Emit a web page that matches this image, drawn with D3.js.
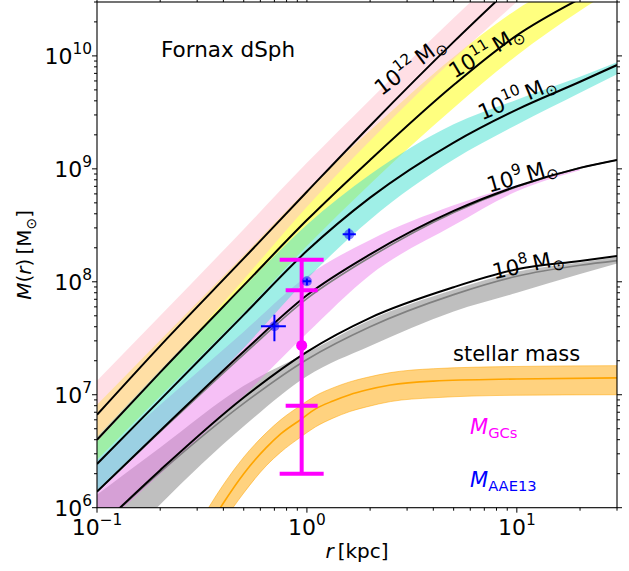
<!DOCTYPE html>
<html><head><meta charset="utf-8">
<script src="https://cdn.jsdelivr.net/npm/d3@7"></script>
<style>body{margin:0;background:#fff} text{font-family:"DejaVu Sans",sans-serif}</style>
</head><body><svg id="c" width="629" height="571" xmlns="http://www.w3.org/2000/svg"></svg>
<script>
// ---------- data ----------
const rGrid   = [0.1, 0.2, 0.5, 1, 2, 5, 10, 20, 30];
const r12     = [0.1, 0.2, 0.5, 1, 2, 5, 10];
const halo12  = [6.65e6, 2.71e7, 1.61e8, 6.27e8, 2.41e9, 1.33e10, 4.53e10];
const halo12Hi= [1.33e7, 5.00e7, 2.92e8, 1.13e9, 4.10e9, 2.17e10, 7.10e10];
const halo12Lo= [3.83e6, 1.56e7, 1.05e8, 4.61e8, 1.77e9, 9.41e9, 3.01e10];
const halo11  = [3.99e6, 1.58e7, 9.29e7, 3.52e8, 1.20e9, 5.53e9, 1.52e10, 3.21e10, 4.7e10];
const halo11Hi= [8.15e6, 3.04e7, 1.72e8, 6.50e8, 2.18e9, 9.80e9, 2.58e10, 5.24e10, 7.48e10];
const halo11Lo= [2.65e6, 9.68e6, 5.35e7, 2.07e8, 7.36e8, 3.46e9, 1.01e10, 2.51e10, 4.05e10];
const halo10  = [2.44e6, 9.0e6, 5.1e7, 1.88e8, 5.56e8, 1.71e9, 3.35e9, 5.9e9, 8.3e9];
const halo10Hi= [4.24e6, 1.66e7, 9.03e7, 3.20e8, 8.90e8, 2.48e9, 4.10e9, 6.54e9, 8.77e9];
const halo10Lo= [1.35e6, 4.68e6, 2.60e7, 1.06e8, 3.55e8, 1.21e9, 2.46e9, 4.72e9, 6.87e9];
const halo9   = [1.39e6, 4.80e6, 2.42e7, 7.6e7, 1.75e8, 4.24e8, 7.01e8, 1.02e9, 1.2e9];
const r9band  = [0.1, 0.2, 0.5, 1, 2, 5, 10, 20];
const halo9Hi = [2.61e6, 8.15e6, 3.62e7, 1.12e8, 2.35e8, 4.75e8, 7.15e8, 1.02e9];
const halo9Lo = [6.09e5, 1.99e6, 9.80e6, 3.5e7, 1.15e8, 3.16e8, 6.33e8, 9.72e8];
const halo8   = [6.4e5, 2.15e6, 9.46e6, 2.4e7, 4.8e7, 8.95e7, 1.29e8, 1.53e8, 1.69e8];
const halo8Hi = [1.30e6, 3.41e6, 1.20e7, 2.35e7, 4.6e7, 8.5e7, 1.23e8, 1.48e8, 1.66e8];
const halo8Lo = [2.76e5, 1.07e6, 5.25e6, 1.46e7, 2.70e7, 5.45e7, 7.98e7, 1.17e8, 1.45e8];
const grey8   = [6.4e5, 2.06e6, 8.37e6, 2.05e7, 4.0e7, 7.7e7, 1.12e8, 1.40e8, 1.54e8];
const grey9   = [1.39e6, 4.70e6, 2.28e7, 7.1e7, 1.65e8, 4.11e8, 6.93e8, 1.02e9, 1.2e9];

const starR   = [0.3, 0.4, 0.5, 0.64, 0.75, 0.93, 1.1, 1.33, 1.6, 1.92, 2.5, 4, 10, 30];
const starM   = [4.5e5, 1.1e6, 2.0e6, 3.4e6, 4.5e6, 6.0e6, 7.5e6, 8.8e6, 1.0e7, 1.1e7, 1.22e7, 1.32e7, 1.38e7, 1.41e7];
const starHi  = [6.8e5, 1.6e6, 2.8e6, 4.6e6, 6.0e6, 8.0e6, 9.8e6, 1.15e7, 1.3e7, 1.42e7, 1.57e7, 1.7e7, 1.78e7, 1.81e7];
const starLo  = [3.0e5, 0.75e6, 1.35e6, 2.35e6, 3.1e6, 4.2e6, 5.2e6, 6.2e6, 7.1e6, 7.8e6, 8.7e6, 9.4e6, 9.9e6, 1.0e7];

const gcR = 0.944, gcM = 2.73e7;
const gcInner = [8.0e6, 8.4e7];
const gcOuter = [2.0e6, 1.57e8];

const aaeR   = [0.70, 1.0, 1.59];
const aaeM   = [4.04e7, 1.01e8, 2.63e8];
const aaeRlo = [0.604, 0.957, 1.48];
const aaeRhi = [0.794, 1.045, 1.71];
const aaeMlo = [2.97e7, 0.93e8, 2.32e8];
const aaeMhi = [5.12e7, 1.07e8, 2.97e8];

const xMajor = [0.1, 1, 10];
const xMajorExp = ["\u22121", "0", "1"];
const yMajor = [1e6, 1e7, 1e8, 1e9, 1e10];
const yMajorExp = ["6", "7", "8", "9", "10"];
const haloLabels = ["12", "11", "10", "9", "8"];

// ---------- layout ----------
const L = 97, R = 617, T = 2, B = 507.7;
const x = d3.scaleLog().domain([0.1, 30]).range([L, R]);
const y = d3.scaleLog().domain([1e6, 3e10]).range([B, T]);
const svg = d3.select('#c');
svg.append('rect').attr('width', 629).attr('height', 571).attr('fill', '#fff');
svg.append('defs').append('clipPath').attr('id', 'clip')
  .append('rect').attr('x', L).attr('y', T).attr('width', R - L).attr('height', B - T);
const g = svg.append('g').attr('clip-path', 'url(#clip)');

const areaPath = (rs, lo, hi) => d3.area()
  .x((d, i) => x(rs[i])).y0((d, i) => y(lo[i])).y1((d, i) => y(hi[i]))
  .curve(d3.curveMonotoneX)(rs);
const linePath = (rs, ms) => d3.line()
  .x((d, i) => x(rs[i])).y((d, i) => y(ms[i]))
  .curve(d3.curveMonotoneX)(rs);

// bands (drawing order matters for the colour mixing)
const bands = [
  [rGrid, halo8Lo, halo8Hi, '#808080'],
  [r9band, halo9Lo, halo9Hi, '#EE82EE'],
  [rGrid, halo11Lo, halo11Hi, '#FFFF00'],
  [rGrid, halo10Lo, halo10Hi, '#40E0D0'],
  [r12, halo12Lo, halo12Hi, '#FFC0CB'],
];
bands.forEach(([rs, lo, hi, c]) => {
  g.append('path').attr('d', areaPath(rs, lo, hi)).attr('fill', c).attr('fill-opacity', 0.5);
});

// grey lines
[grey8, grey9].forEach(ms => {
  g.append('path').attr('d', linePath(rGrid, ms)).attr('fill', 'none')
    .attr('stroke', '#808080').attr('stroke-width', 1.6);
});
// black halo lines
[[r12, halo12], [rGrid, halo11], [rGrid, halo10], [rGrid, halo9], [rGrid, halo8]].forEach(([rs, ms]) => {
  g.append('path').attr('d', linePath(rs, ms)).attr('fill', 'none')
    .attr('stroke', '#000').attr('stroke-width', 2);
});

// stellar mass
g.append('path').attr('d', areaPath(starR, starLo, starHi))
  .attr('fill', '#FFA500').attr('fill-opacity', 0.5)
  .attr('stroke', '#FFA500').attr('stroke-opacity', 0.5).attr('stroke-width', 1);
g.append('path').attr('d', linePath(starR, starM)).attr('fill', 'none')
  .attr('stroke', '#FFA500').attr('stroke-width', 1.6);

// GC error bar
const mg = g.append('g').attr('stroke', '#FF00FF').attr('stroke-width', 4);
mg.append('line').attr('x1', x(gcR)).attr('x2', x(gcR)).attr('y1', y(gcOuter[0])).attr('y2', y(gcOuter[1]));
gcOuter.forEach(v => mg.append('line').attr('x1', x(gcR) - 22).attr('x2', x(gcR) + 22).attr('y1', y(v)).attr('y2', y(v)));
gcInner.forEach(v => mg.append('line').attr('x1', x(gcR) - 16).attr('x2', x(gcR) + 16).attr('y1', y(v)).attr('y2', y(v)));
g.append('circle').attr('cx', x(gcR)).attr('cy', y(gcM)).attr('r', 5.5).attr('fill', '#FF00FF');

// AAE13 points
aaeR.forEach((r, i) => {
  g.append('circle').attr('cx', x(r)).attr('cy', y(aaeM[i])).attr('r', 5)
    .attr('fill', '#0000FF').attr('fill-opacity', 0.5);
  g.append('line').attr('x1', x(aaeRlo[i])).attr('x2', x(aaeRhi[i])).attr('y1', y(aaeM[i])).attr('y2', y(aaeM[i]))
    .attr('stroke', '#0000FF').attr('stroke-width', 2);
  g.append('line').attr('x1', x(r)).attr('x2', x(r)).attr('y1', y(aaeMlo[i])).attr('y2', y(aaeMhi[i]))
    .attr('stroke', '#0000FF').attr('stroke-width', 2);
});

// ---------- axes ----------
svg.append('rect').attr('x', L).attr('y', T).attr('width', R - L).attr('height', B - T)
  .attr('fill', 'none').attr('stroke', '#000').attr('stroke-width', 1.1);
const tk = svg.append('g').attr('stroke', '#000').attr('stroke-width', 1);
const xMinor = [], yMinor = [];
[-1, 0, 1].forEach(d => { for (let k = 2; k <= 9; k++) { const v = k * Math.pow(10, d); if (v <= 30) xMinor.push(v); } });
[6, 7, 8, 9, 10].forEach(d => { for (let k = 2; k <= 9; k++) { const v = k * Math.pow(10, d); if (v <= 3e10) yMinor.push(v); } });
const xt = (v, len) => {
  tk.append('line').attr('x1', x(v)).attr('x2', x(v)).attr('y1', B).attr('y2', B + len);
  tk.append('line').attr('x1', x(v)).attr('x2', x(v)).attr('y1', T).attr('y2', T - len);
};
const yt = (v, len) => {
  tk.append('line').attr('x1', L).attr('x2', L - len).attr('y1', y(v)).attr('y2', y(v));
  tk.append('line').attr('x1', R).attr('x2', R + len).attr('y1', y(v)).attr('y2', y(v));
};
xMajor.forEach(v => xt(v, 5)); xMinor.forEach(v => xt(v, 3));
yMajor.forEach(v => yt(v, 5)); yMinor.forEach(v => yt(v, 3));

const FS = 20, TFS = 22;
function pow10(sel, exp, fs) {
  sel.append('tspan').text('10');
  sel.append('tspan').attr('font-size', fs * 0.7).attr('dy', -fs * 0.45).text(exp);
}
xMajor.forEach((v, i) => {
  const t = svg.append('text').attr('x', x(v)).attr('y', B + 27).attr('text-anchor', 'middle').attr('font-size', TFS);
  pow10(t, xMajorExp[i], TFS);
});
yMajor.forEach((v, i) => {
  const t = svg.append('text').attr('x', L - 5).attr('y', y(v) + 8).attr('text-anchor', 'end').attr('font-size', TFS);
  pow10(t, yMajorExp[i], TFS);
});

// axis labels
const xl = svg.append('text').attr('x', (L + R) / 2).attr('y', 558).attr('text-anchor', 'middle').attr('font-size', FS);
xl.append('tspan').attr('font-style', 'italic').text('r');
xl.append('tspan').text('\u2009[kpc]');
const yl = svg.append('text').attr('transform', `translate(31,${(T + B) / 2}) rotate(-90)`).attr('text-anchor', 'middle').attr('font-size', FS);
yl.append('tspan').attr('font-style', 'italic').text('M');
yl.append('tspan').text('(');
yl.append('tspan').attr('font-style', 'italic').text('r');
yl.append('tspan').text(')\u2009[M');
yl.append('tspan').attr('font-size', FS * 0.7).attr('dy', FS * 0.25).text('\u2299');
yl.append('tspan').attr('dy', -FS * 0.25).text(']');

// annotations
svg.append('text').attr('x', 161).attr('y', 56.7).attr('font-size', 21.5).text('Fornax dSph');
svg.append('text').attr('x', 453).attr('y', 361).attr('font-size', 21).text('stellar mass');
const gcl = svg.append('text').attr('x', 470).attr('y', 434).attr('font-size', 21).attr('fill', '#FF00FF');
gcl.append('tspan').attr('font-style', 'italic').text('M');
gcl.append('tspan').attr('font-size', 21 * 0.7).attr('dy', 21 * 0.2).text('GCs');
const ael = svg.append('text').attr('x', 470).attr('y', 487).attr('font-size', 21).attr('fill', '#0000FF');
ael.append('tspan').attr('font-style', 'italic').text('M');
ael.append('tspan').attr('font-size', 21 * 0.7).attr('dy', 21 * 0.2).text('AAE13');

const HFS = 21.5;
const labelPos = [[410, 66, -37], [486, 52, -31], [517, 98, -23], [522, 176, -16], [528, 265, -12]];
haloLabels.forEach((e, i) => {
  const [cx, cy, a] = labelPos[i];
  const t = svg.append('text').attr('transform', `translate(${cx},${cy}) rotate(${a})`)
    .attr('text-anchor', 'middle').attr('font-size', HFS).attr('y', 7);
  pow10(t, e, HFS);
  t.append('tspan').attr('dy', HFS * 0.45).text('\u2009M');
  t.append('tspan').attr('font-size', HFS * 0.7).attr('dy', HFS * 0.2).text('\u2299');
});
</script></body></html>
